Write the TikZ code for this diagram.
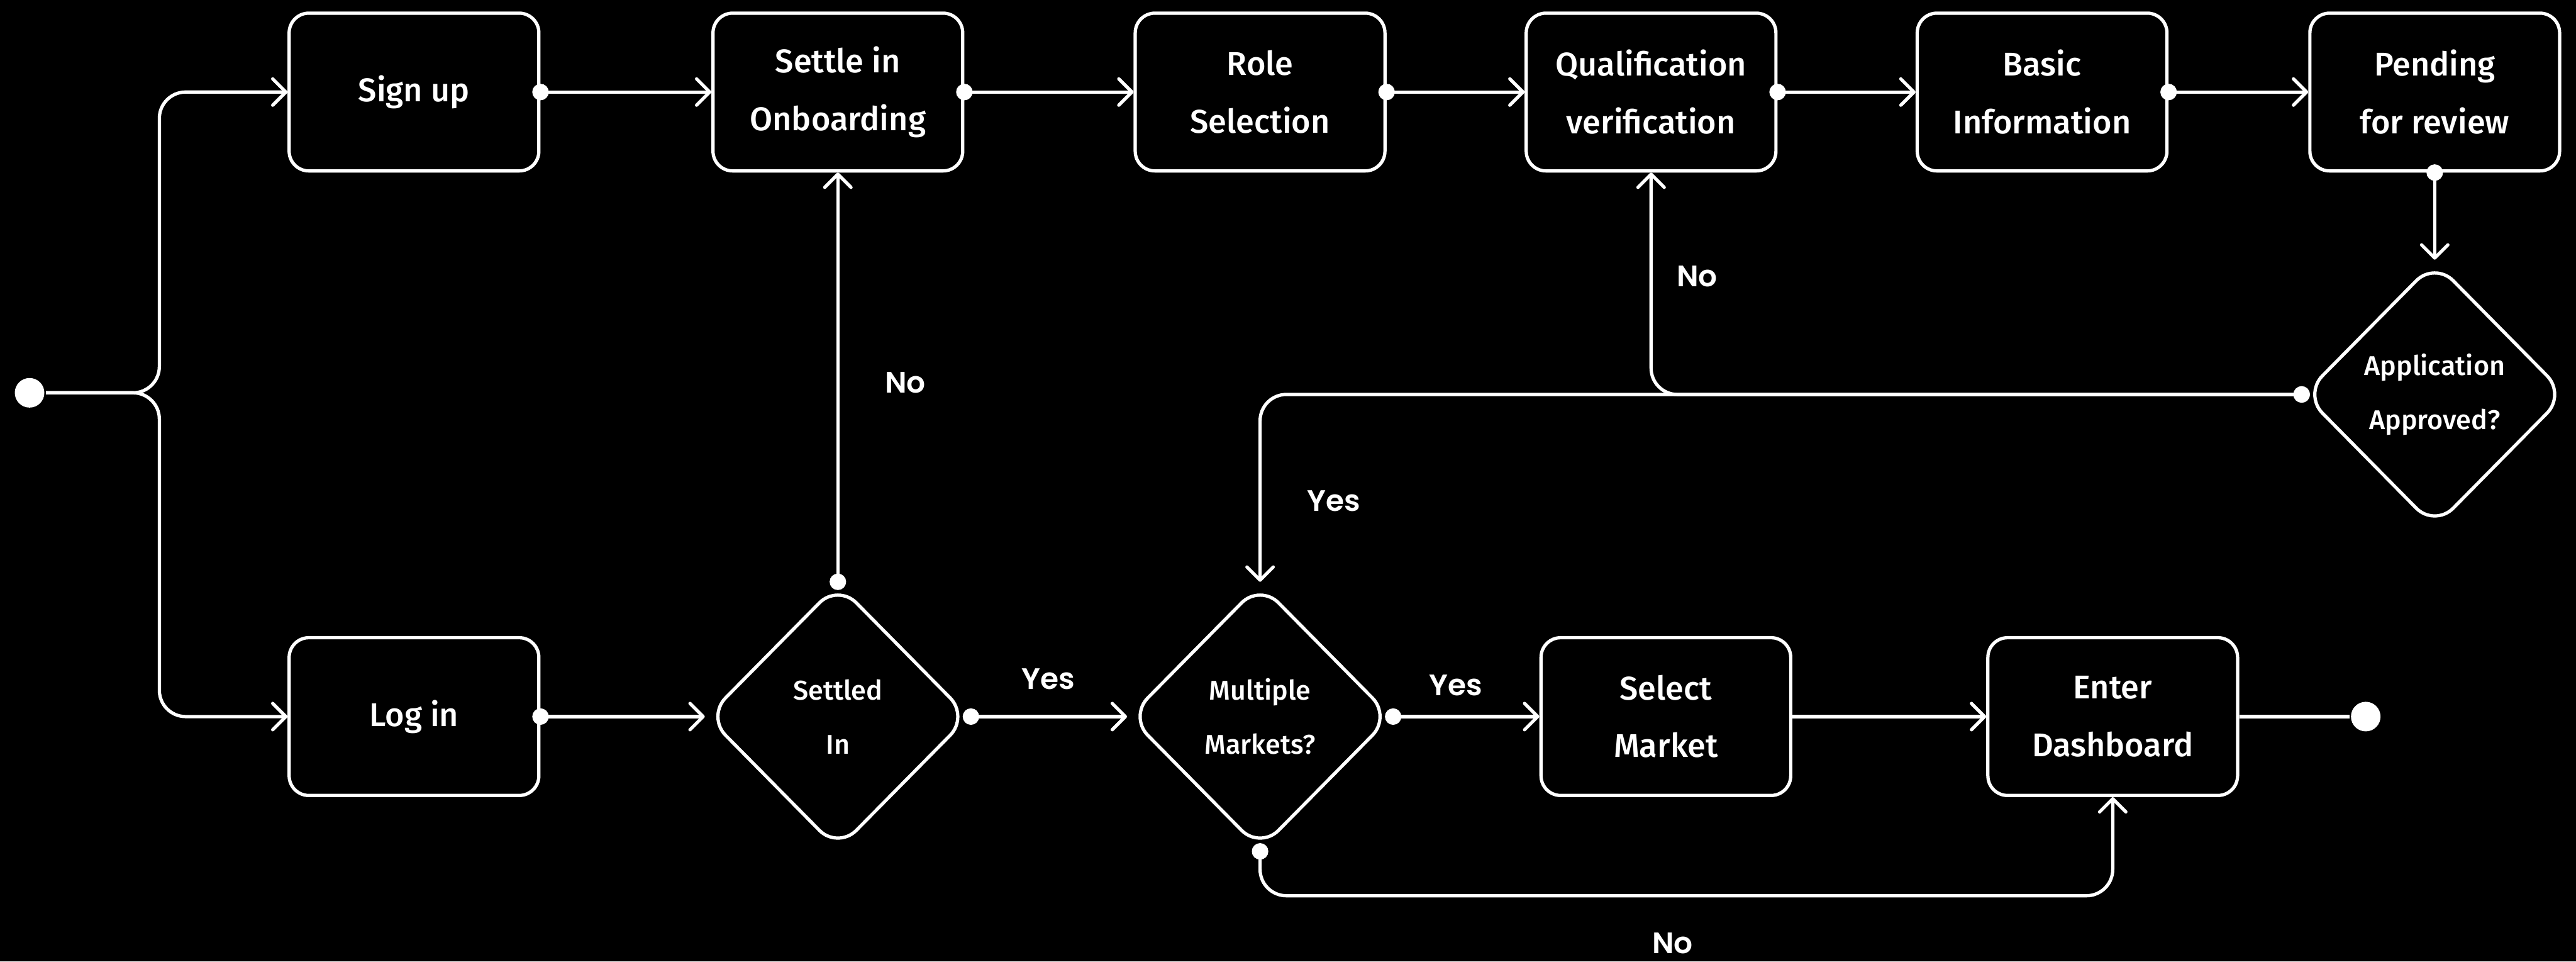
\documentclass[tikz,border=0pt]{standalone}
\usepackage{fontspec}
\usetikzlibrary{arrows.meta,shapes.geometric}
\IfFontExistsTF{Fira Sans Medium}{\newfontfamily\boxfont{Fira Sans Medium}}{\newfontfamily\boxfont{Fira Sans}}
\IfFontExistsTF{Poppins SemiBold}{\newfontfamily\tagfont{Poppins SemiBold}}{\newfontfamily\tagfont{Poppins}[UprightFont=* Bold]}
\begin{document}
\begin{tikzpicture}[x=1pt, y=-1pt, line width=2pt, white,
  box/.style={draw, rounded corners=12pt, minimum width=152pt, minimum height=96pt, align=center, font=\boxfont\fontsize{20}{35}\selectfont},
  choice/.style={draw, diamond, rounded corners=16pt, minimum width=160pt, minimum height=162pt, inner sep=0pt, align=center, font=\boxfont\fontsize{16.5}{33}\selectfont},
  term/.style={circle, fill, inner sep=0pt, minimum size=18pt},
  flow/.style={{Circle[length=10pt]}-{Straight Barb[length=8pt,width=16pt,round]}, shorten <=-5pt, rounded corners=16pt},
  link/.style={-{Straight Barb[length=8pt,width=16pt,round]}, rounded corners=16pt},
  tag/.style={font=\tagfont\fontsize{18}{20}\selectfont}]
\useasboundingbox (0,0) rectangle (1568,585);
\fill[black] (0,0) rectangle (1568,585);
% top row
\node[term] (start) at (18,239){};
\node[box] (signup) at (252,56){Sign up};
\node[box] (settle) at (510,56){Settle in\\Onboarding};
\node[box] (role) at (767,56){Role\\Selection};
\node[box] (qual) at (1005,56){Qualification\\verification};
\node[box] (basic) at (1243,56){Basic\\Information};
\node[box] (pending) at (1482,56){Pending\\for review};
\node[choice] (approved) at (1482,240){Application\\Approved?};
% bottom row
\node[box] (login) at (252,436){Log in};
\node[choice] (settled) at (510,436){Settled\\In};
\node[choice] (multi) at (767,436){Multiple\\Markets?};
\node[box] (select) at (1014,436){Select\\Market};
\node[box] (dash) at (1286,436){Enter\\Dashboard};
\node[term] (stop) at (1440,436){};
\draw[link](start.east) -- ++(69,0) |- (signup.west);
\draw[link](start.east) -- ++(69,0) |- (login.west);
\draw[flow](signup.east) -- (settle.west);
\draw[flow](settle.east) -- (role.west);
\draw[flow](role.east) -- (qual.west);
\draw[flow](qual.east) -- (basic.west);
\draw[flow](basic.east) -- (pending.west);
\draw[flow](pending.south) -- (approved.north);
\draw[flow](approved.west) -| (qual.south);
\draw[flow](approved.west) -| (multi.north);
\draw[flow](login.east) -- (settled.west);
\draw[flow](settled.north) -- (settle.south);
\draw[flow](settled.east) -- (multi.west);
\draw[flow](multi.east) -- (select.west);
\draw[flow](multi.south) -- ++(0,27) -| (dash.south);
\draw[link](select.east) -- (dash.west);
\draw[](dash.east) -- (stop.west);
% answers
\node[tag] (no1) at (551,233){No};
\node[tag] (yes1) at (638,413){Yes};
\node[tag] (yes2) at (886,417){Yes};
\node[tag] (no2) at (1033,168){No};
\node[tag] (yes3) at (812,305){Yes};
\node[tag] (no3) at (1018,574){No};
\end{tikzpicture}
\end{document}
